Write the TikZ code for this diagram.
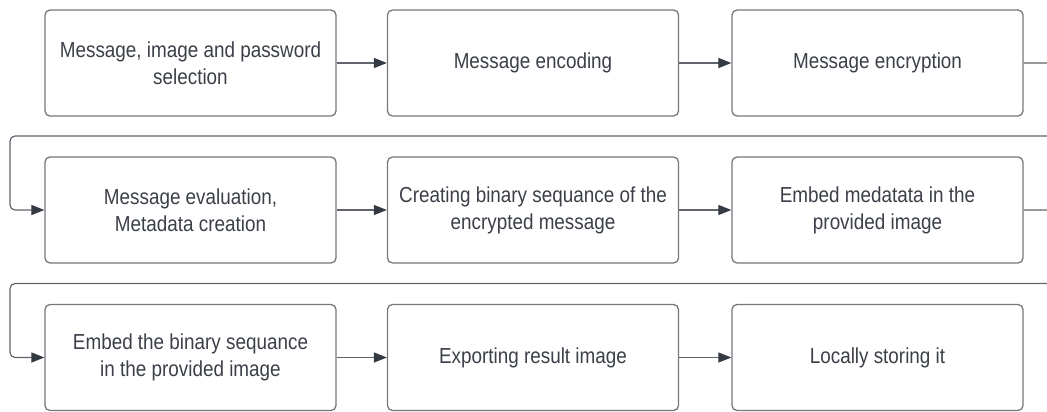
\documentclass[tikz,border=0pt]{standalone}
\usepackage{fontspec}
\setmainfont{Liberation Sans}[FakeStretch=0.87]
\usetikzlibrary{arrows.meta}
\definecolor{boxline}{HTML}{74777D}
\definecolor{txt}{HTML}{3B3F47}
\definecolor{wire}{HTML}{60646B}
\definecolor{tipc}{HTML}{343A44}
\tikzset{
  stepbox/.style={draw=boxline, line width=1.3pt, rounded corners=5pt,
    minimum width=291pt, minimum height=106pt, inner sep=2pt,
    align=center, text=txt, font=\fontsize{21.7}{27}\selectfont},
  flow/.style={draw=wire, line width=1.2pt,
    -{Triangle[length=13pt,width=10pt,fill=tipc,color=tipc]}},
  wrap/.style={flow, rounded corners=5pt}
}
\begin{document}
\begin{tikzpicture}[x=1pt,y=-1pt]
\useasboundingbox (0,0) rectangle (1047,412);
\clip (0,0) rectangle (1047,412);
% row 1
\node[stepbox] (a1) at (190.5,63) {Message, image and password\\selection};
\node[stepbox] (a2) at (533,63) {Message encoding};
\node[stepbox] (a3) at (877.5,63) {Message encryption};
% row 2
\node[stepbox] (b1) at (190.5,210) {Message evaluation,\\Metadata creation};
\node[stepbox] (b2) at (533,210) {Creating binary sequance of the\\encrypted message};
\node[stepbox] (b3) at (877.5,210) {Embed medatata in the\\provided image};
% row 3
\node[stepbox] (c1) at (190.5,357.5) {Embed the binary sequance\\in the provided image};
\node[stepbox] (c2) at (533,357.5) {Exporting result image};
\node[stepbox] (c3) at (877.5,357.5) {Locally storing it};
% turning points of the row-to-row links
\coordinate (r1) at (1060,63);
\coordinate (r1d) at (1060,136);
\coordinate (l1) at (10,136);
\coordinate (l1d) at (10,210);
\coordinate (r2) at (1060,210);
\coordinate (r2d) at (1060,283.5);
\coordinate (l2) at (10,283.5);
\coordinate (l2d) at (10,357.5);
% straight links
\draw[flow] (a1) -- (a2);
\draw[flow] (a2) -- (a3);
\draw[flow] (b1) -- (b2);
\draw[flow] (b2) -- (b3);
\draw[flow] (c1) -- (c2);
\draw[flow] (c2) -- (c3);
% wrap-around links
\draw[wrap] (a3.east) -- (r1) -- (r1d) -- (l1) -- (l1d) -- (b1.west);
\draw[wrap] (b3.east) -- (r2) -- (r2d) -- (l2) -- (l2d) -- (c1.west);
\end{tikzpicture}
\end{document}
